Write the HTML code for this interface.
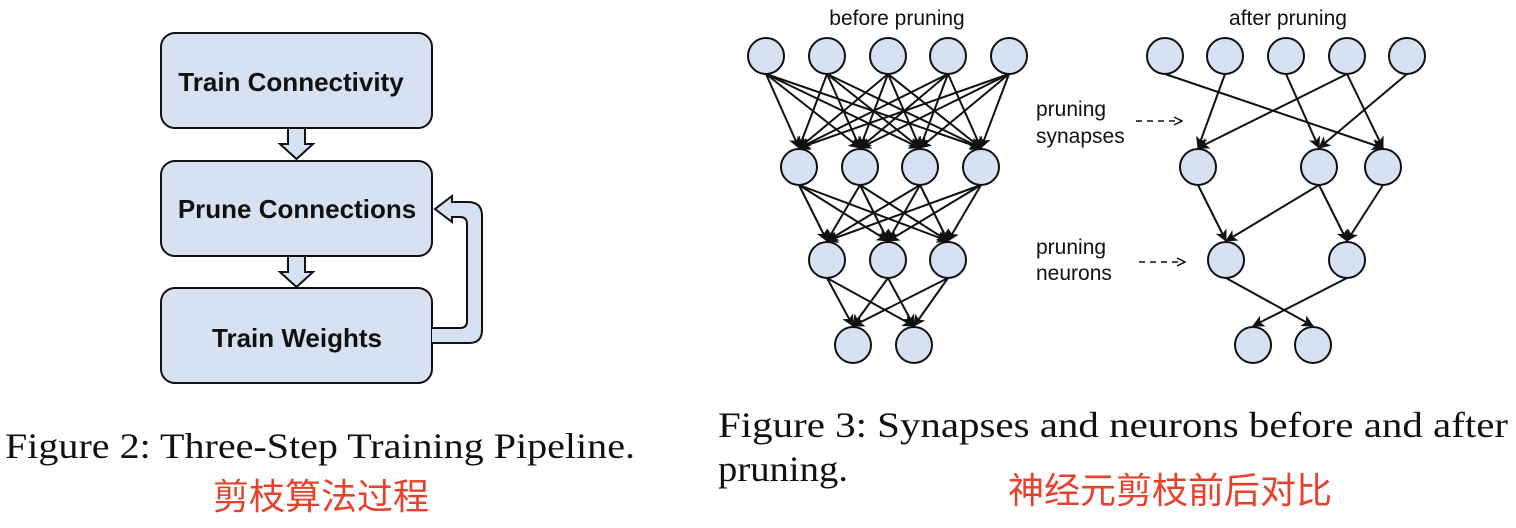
<!DOCTYPE html>
<html><head><meta charset="utf-8">
<style>
body{margin:0;background:#fff;width:1516px;height:528px;overflow:hidden}
svg{position:absolute;left:0;top:0}
</style></head><body>
<svg id="s" width="1516" height="528" xmlns="http://www.w3.org/2000/svg">
<defs>
<marker id="a" markerWidth="12" markerHeight="12" refX="11" refY="6" orient="auto" markerUnits="userSpaceOnUse">
<path d="M0,0 L12,6 L0,12 L3,6 Z" fill="#111"/></marker>
<marker id="d" markerWidth="10" markerHeight="10" refX="9" refY="5" orient="auto" markerUnits="userSpaceOnUse">
<path d="M1,1 L9,5 L1,9" fill="none" stroke="#111" stroke-width="1.5"/></marker>
</defs>
<g fill="#d6e2f1" stroke="#111" stroke-width="2">
<rect x="161" y="33" width="271" height="95" rx="14"/>
<rect x="161" y="161" width="271" height="95" rx="14"/>
<rect x="161" y="288" width="271" height="95" rx="14"/>
<path d="M288,128 L305,128 L305,144 L313,144 L296.5,159 L280,144 L288,144 Z"/>
<path d="M288,256 L305,256 L305,272 L313,272 L296.5,287 L280,272 L288,272 Z"/>
<path d="M432,328 L460,328 Q467,328 467,321 L467,224 Q467,217 460,217 L452,217 L452,222 L435,209 L452,196 L452,202 L468,202 Q482,202 482,216 L482,330 Q482,343 469,343 L432,343"/>
</g>
<g font-family="Liberation Sans, sans-serif" font-weight="bold" font-size="26" fill="#111" text-anchor="middle">
<text x="291" y="91">Train Connectivity</text>
<text x="297" y="218">Prune Connections</text>
<text x="297" y="347">Train Weights</text>
</g>
<g id="net" stroke="#111" stroke-width="2" fill="none"></g>
<g id="nodes" fill="#d6e2f1" stroke="#111" stroke-width="2"></g>
<g font-family="Liberation Sans, sans-serif" font-size="21" fill="#111">
<text x="897" y="25" text-anchor="middle">before pruning</text>
<text x="1288" y="25" text-anchor="middle">after pruning</text>
<text x="1036" y="116">pruning</text>
<text x="1036" y="143">synapses</text>
<text x="1036" y="254">pruning</text>
<text x="1036" y="280">neurons</text>
</g>
<line x1="1136" y1="121" x2="1182" y2="121" stroke="#111" stroke-width="1.5" stroke-dasharray="6,5" marker-end="url(#d)"/>
<line x1="1139" y1="262" x2="1185" y2="262" stroke="#111" stroke-width="1.5" stroke-dasharray="6,5" marker-end="url(#d)"/>
<g font-family="Liberation Serif, serif" font-size="36" fill="#111">
<text x="5" y="458" textLength="630" lengthAdjust="spacingAndGlyphs">Figure 2: Three-Step Training Pipeline.</text>
<text x="718" y="437" textLength="790" lengthAdjust="spacingAndGlyphs">Figure 3: Synapses and neurons before and after</text>
<text x="718" y="481" textLength="130" lengthAdjust="spacingAndGlyphs">pruning.</text>
</g>
<g font-family="Liberation Sans, Noto Sans CJK SC, sans-serif" font-size="36" fill="#e8402a">
<text x="321" y="509" text-anchor="middle">剪枝算法过程</text>
<text x="1170" y="503" text-anchor="middle">神经元剪枝前后对比</text>
</g>
</svg>
<script>
var ns="http://www.w3.org/2000/svg",R=18;
var net=document.getElementById('net'),nodes=document.getElementById('nodes');
function node(x,y){var c=document.createElementNS(ns,'circle');c.setAttribute('cx',x);c.setAttribute('cy',y);c.setAttribute('r',R);nodes.appendChild(c);}
function edge(a,b){
var l=document.createElementNS(ns,'line');l.setAttribute('x1',a[0]);l.setAttribute('y1',a[1]+R);
l.setAttribute('x2',b[0]);l.setAttribute('y2',b[1]-R-1);l.setAttribute('marker-end','url(#a)');net.appendChild(l);}
var B=[[766,827,888,948,1009],[799,860,920,981],[827,888,948],[853,914]],Y=[56,167,260,345];
for(var i=0;i<3;i++)for(var a=0;a<B[i].length;a++)for(var b=0;b<B[i+1].length;b++)edge([B[i][a],Y[i]],[B[i+1][b],Y[i+1]]);
B.forEach(function(r,i){r.forEach(function(x){node(x,Y[i]);});});
var A=[[1165,1225,1286,1347,1407],[1198,1319,1383],[1226,1347],[1253,1313]];
var E=[[0,0,2],[0,1,0],[0,2,1],[0,3,0],[0,3,2],[0,4,1],[1,0,0],[1,1,0],[1,1,1],[1,2,1],[2,0,1],[2,1,0]];
E.forEach(function(e){edge([A[e[0]][e[1]],Y[e[0]]],[A[e[0]+1][e[2]],Y[e[0]+1]]);});
A.forEach(function(r,i){r.forEach(function(x){node(x,Y[i]);});});
</script>
</body></html>
